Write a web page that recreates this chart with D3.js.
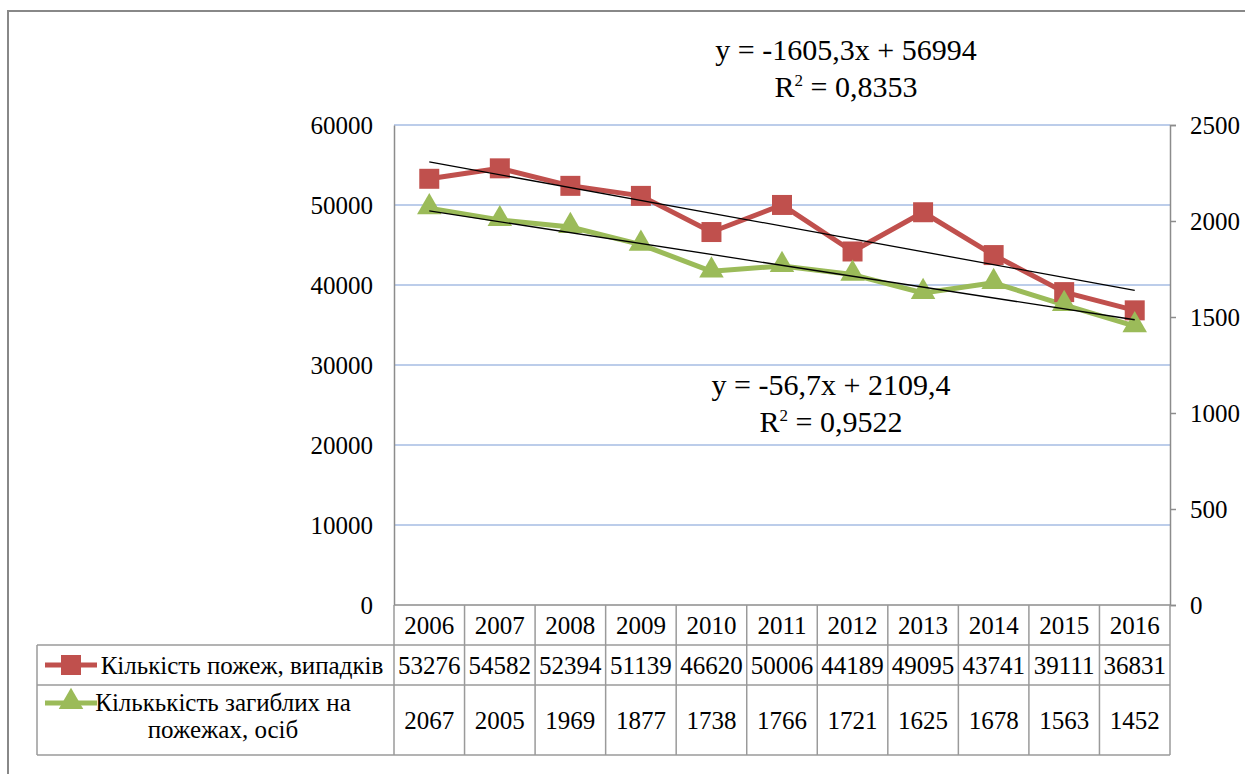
<!DOCTYPE html>
<html><head><meta charset="utf-8">
<script src="https://cdn.jsdelivr.net/npm/d3@7"></script>
<style>body{margin:0;background:#fff;} text{font-family:'Liberation Serif','Times New Roman','DejaVu Serif',serif !important;}</style>
</head><body><svg id="c" width="1245" height="774"></svg>
<script>
const years = ["2006","2007","2008","2009","2010","2011","2012","2013","2014","2015","2016"];
const fires = [53276,54582,52394,51139,46620,50006,44189,49095,43741,39111,36831];
const deaths = [2067,2005,1969,1877,1738,1766,1721,1625,1678,1563,1452];
const leftTicks = [0,10000,20000,30000,40000,50000,60000];
const rightTicks = [0,500,1000,1500,2000,2500];
const fireTrend = {slope:-1605.3, intercept:56994, eq:"y = -1605,3x + 56994", r2:"0,8353"};
const deathTrend = {slope:-56.7, intercept:2109.4, eq:"y = -56,7x + 2109,4", r2:"0,9522"};
const seriesNames = ["Кількість пожеж, випадків", ["Кількькість загиблих на","пожежах, осіб"]];

const RED="#C0504D", GREEN="#9BBB59", GRID="#BCCDEA", AXIS="#8C8C8C";
const FONT="'Liberation Serif','Times New Roman','DejaVu Serif',serif";
const svg = d3.select("#c").style("font-family",FONT);
const L=394, R=1170, T=125, B=605;
const x = d3.scaleBand().domain(years).range([L,R]);
const yL = d3.scaleLinear().domain([0,60000]).range([B,T]);
const yR = d3.scaleLinear().domain([0,2500]).range([B,T]);
const cx = d => x(d)+x.bandwidth()/2;

// outer frame
svg.append("rect").attr("x",8).attr("y",11).attr("width",1260).attr("height",800)
  .attr("fill","none").attr("stroke","#888").attr("stroke-width",2);

// gridlines
svg.append("g").selectAll("line").data(leftTicks.filter(d=>d>0)).join("line")
  .attr("x1",L).attr("x2",R).attr("y1",d=>yL(d)).attr("y2",d=>yL(d))
  .attr("stroke",GRID).attr("stroke-width",2);

// left axis
const ga = svg.append("g").attr("transform",`translate(${L},0)`)
  .call(d3.axisLeft(yL).tickValues(leftTicks).tickSize(0).tickPadding(21).tickFormat(d3.format("d")));
ga.attr("font-family",null);
ga.select(".domain").attr("stroke",AXIS).attr("stroke-width",1.5);
ga.selectAll("text").attr("font-size",25).style("font-family",FONT).attr("fill","#000");

// right axis
const gr = svg.append("g").attr("transform",`translate(${R},0)`)
  .call(d3.axisRight(yR).tickValues(rightTicks).tickSize(6).tickPadding(14).tickFormat(d3.format("d")));
gr.attr("font-family",null);
gr.select(".domain").attr("stroke",AXIS).attr("stroke-width",1.5);
gr.selectAll(".tick line").attr("stroke",AXIS).attr("stroke-width",1.5);
gr.selectAll("text").attr("font-size",25).style("font-family",FONT).attr("fill","#000");

// bottom baseline
svg.append("line").attr("x1",L).attr("x2",R).attr("y1",B).attr("y2",B).attr("stroke",AXIS).attr("stroke-width",1.5);

// series lines
const lineF = d3.line().x((d,i)=>cx(years[i])).y(d=>yL(d));
const lineD = d3.line().x((d,i)=>cx(years[i])).y(d=>yR(d));
svg.append("path").attr("d",lineF(fires)).attr("fill","none").attr("stroke",RED).attr("stroke-width",5).attr("stroke-linejoin","round");
svg.append("path").attr("d",lineD(deaths)).attr("fill","none").attr("stroke",GREEN).attr("stroke-width",5).attr("stroke-linejoin","round");

const sq = d3.symbol().type(d3.symbolSquare).size(400);
const tri = d3.symbol().type(d3.symbolTriangle).size(260);
svg.append("g").selectAll("path").data(fires).join("path")
  .attr("d",sq).attr("transform",(d,i)=>`translate(${cx(years[i])},${yL(d)})`).attr("fill",RED);
svg.append("g").selectAll("path").data(deaths).join("path")
  .attr("d",tri).attr("transform",(d,i)=>`translate(${cx(years[i])},${yR(d)-1})`).attr("fill",GREEN);

// trendlines
function trend(t, ys){
  const n = years.length;
  svg.append("line").attr("x1",cx(years[0])).attr("x2",cx(years[n-1]))
    .attr("y1",ys(t.slope*1+t.intercept)).attr("y2",ys(t.slope*n+t.intercept))
    .attr("stroke","#000").attr("stroke-width",1.3);
}
trend(fireTrend,yL); trend(deathTrend,yR);

// equations
function eq(t, xc, y1){
  const g = svg.append("g").attr("font-size",30).attr("text-anchor","middle").attr("fill","#000");
  g.append("text").attr("x",xc).attr("y",y1).text(t.eq);
  const r = g.append("text").attr("x",xc).attr("y",y1+37);
  r.append("tspan").text("R");
  r.append("tspan").attr("font-size",17).attr("dy",-11).text("2");
  r.append("tspan").attr("dy",11).text(" = "+t.r2);
}
eq(fireTrend,846,60);
eq(deathTrend,831,395);

// data table
const TL=37;
const tg = svg.append("g").attr("stroke","#9a9a9a").attr("stroke-width",1.5).attr("fill","none");
[645,685,755].forEach(yy=>tg.append("line").attr("x1",TL).attr("x2",R).attr("y1",yy).attr("y2",yy));
tg.append("line").attr("x1",TL).attr("x2",TL).attr("y1",645).attr("y2",755);
const vx = years.map(d=>x(d)).concat([R]);
tg.selectAll("line.v").data(vx).join("line").attr("class","v")
  .attr("x1",d=>d).attr("x2",d=>d).attr("y1",B).attr("y2",755);

const txt = svg.append("g").attr("font-size",25).attr("text-anchor","middle").attr("fill","#000");
txt.selectAll("text.yr").data(years).join("text").attr("class","yr")
  .attr("x",d=>cx(d)).attr("y",634).text(d=>d);
txt.selectAll("text.f").data(fires).join("text").attr("class","f")
  .attr("x",(d,i)=>cx(years[i])).attr("y",674).text(d=>d);
txt.selectAll("text.dd").data(deaths).join("text").attr("class","dd")
  .attr("x",(d,i)=>cx(years[i])).attr("y",729).text(d=>d);

// legend keys
function key(y, color, shape){
  svg.append("line").attr("x1",45).attr("x2",97).attr("y1",y).attr("y2",y).attr("stroke",color).attr("stroke-width",5);
  svg.append("path").attr("d",shape).attr("transform",`translate(71,${shape===tri?y-1:y})`).attr("fill",color);
}
key(665,RED,sq); key(703,GREEN,tri);
txt.append("text").attr("x",242).attr("y",674).text(seriesNames[0]);
txt.append("text").attr("x",223).attr("y",711).text(seriesNames[1][0]);
txt.append("text").attr("x",223).attr("y",738).text(seriesNames[1][1]);
</script></body></html>
